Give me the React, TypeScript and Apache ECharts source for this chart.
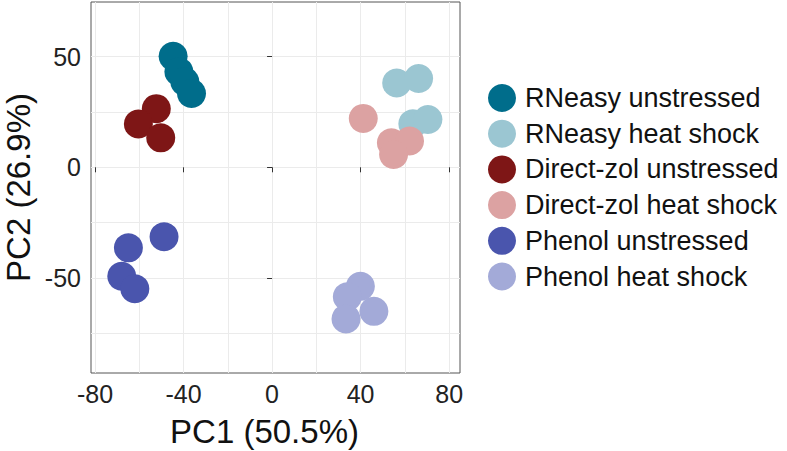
import React, { useEffect, useRef } from "react";
import * as echarts from "echarts";

const groupNames = [
  "RNeasy unstressed",
  "RNeasy heat shock",
  "Direct-zol unstressed",
  "Direct-zol heat shock",
  "Phenol unstressed",
  "Phenol heat shock",
];
const groupColors = ["#006D8B", "#9BC6D2", "#7E1616", "#DCA2A2", "#4A55AD", "#A3AAD8"];

const rneasyUnstressed = [[-44.7, 50.2], [-42.1, 43.2], [-39.4, 38.7], [-36.4, 33.4]];
const rneasyHeat = [[56.3, 38.1], [66.2, 40.1], [63.6, 19.7], [70.4, 21.6]];
const directUnstressed = [[-52.3, 26.5], [-60.4, 19.6], [-50.3, 13.3]];
const directHeat = [[41.2, 22.1], [53.9, 11.1], [62.1, 11.9], [54.9, 5.8]];
const phenolUnstressed = [[-64.9, -36.4], [-48.8, -31.4], [-67.9, -49.2], [-62.0, -54.9]];
const phenolHeat = [[39.9, -53.8], [34.0, -58.5], [46.0, -65.1], [33.4, -68.5]];
const groupData = [rneasyUnstressed, rneasyHeat, directUnstressed, directHeat, phenolUnstressed, phenolHeat];

const xTicks = [-80, -40, 0, 40, 80];
const yTicks = [-50, 0, 50];
const xMinorGrid = [-60, -20, 20, 60];
const yMinorGrid = [-75, -25, 25];

const FONT = "'Liberation Sans', Arial, Helvetica, sans-serif";

export default function App() {
  const ref = useRef<HTMLDivElement>(null);
  useEffect(() => {
    if (!ref.current) return;
    const chart = echarts.init(ref.current, undefined, { renderer: "svg" });
    const gridLines = [
      ...xTicks.map((v) => ({ xAxis: v })),
      ...xMinorGrid.map((v) => ({ xAxis: v })),
      ...yTicks.map((v) => ({ yAxis: v })),
      ...yMinorGrid.map((v) => ({ yAxis: v })),
    ];
    const series: any[] = [
      {
        name: "__grid",
        type: "scatter",
        data: [],
        silent: true,
        z: 0,
        markLine: {
          z: 0,
          silent: true,
          symbol: ["none", "none"],
          label: { show: false },
          lineStyle: { color: "#EBEBEB", width: 1, type: "solid" },
          emphasis: { disabled: true },
          animation: false,
          data: gridLines,
        },
      },
      ...groupNames.map((name, i) => ({
        name,
        type: "scatter",
        data: groupData[i],
        symbol: "circle",
        symbolSize: 29,
        z: 3,
        itemStyle: { color: groupColors[i], opacity: 1 },
        emphasis: { disabled: true },
      })),
    ];
    chart.setOption({
      animation: false,
      backgroundColor: "#ffffff",
      textStyle: { fontFamily: FONT },
      grid: {
        left: 91,
        top: 2,
        width: 369,
        height: 371,
        containLabel: false,
        outerBoundsMode: "none",
        show: true,
        borderColor: "#555555",
        borderWidth: 1,
        backgroundColor: "transparent",
      },
      legend: {
        data: groupNames,
        orient: "vertical",
        left: 483,
        top: 79,
        icon: "circle",
        itemWidth: 28,
        itemHeight: 28,
        itemGap: 7.7,
        selectedMode: false,
        textStyle: { fontSize: 27, color: "#111", fontFamily: FONT, padding: [0, 0, 0, 4] },
      },
      xAxis: {
        type: "value",
        min: -81.8,
        max: 84.9,
        name: "PC1 (50.5%)",
        nameLocation: "middle",
        nameGap: 42,
        nameTextStyle: { fontSize: 33, color: "#111", fontFamily: FONT, padding: [0, 0, 0, -22] },
        axisLine: { show: false },
        axisTick: { show: true, length: 5, customValues: xTicks, lineStyle: { color: "#333" } },
        axisLabel: { customValues: xTicks, fontSize: 25, color: "#222", margin: 8, fontFamily: FONT },
        splitLine: { show: false },
      },
      yAxis: {
        type: "value",
        min: -92.95,
        max: 74.7,
        name: "PC2 (26.9%)",
        nameLocation: "middle",
        nameGap: 56,
        nameRotate: 90,
        nameTextStyle: { fontSize: 33, color: "#111", fontFamily: FONT },
        axisLine: { show: false },
        axisTick: { show: true, length: 5, customValues: yTicks, lineStyle: { color: "#333" } },
        axisLabel: { customValues: yTicks, fontSize: 25, color: "#222", margin: 10, fontFamily: FONT },
        splitLine: { show: false },
      },
      series,
    });
    return () => chart.dispose();
  }, []);
  return (
    <div
      ref={ref}
      style={{ position: "fixed", left: 0, top: 0, width: 787, height: 451 }}
    />
  );
}
